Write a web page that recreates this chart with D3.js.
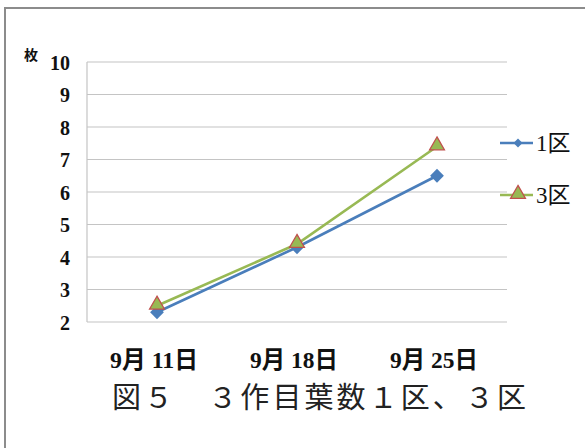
<!DOCTYPE html>
<html>
<head>
<meta charset="utf-8">
<script src="https://cdn.jsdelivr.net/npm/d3@7"></script>
<style>
  html, body { margin: 0; padding: 0; background: #fff; }
  svg { display: block; }
</style>
</head>
<body>
<svg id="chart" width="585" height="448"></svg>
<script>
// Leaf counts for the third crop, plots 1 and 3
const dates = ["9月 11日", "9月 18日", "9月 25日"];
const plot1 = [2.3, 4.3, 6.5];
const plot3 = [2.5, 4.4, 7.4];
const seriesNames = ["1区", "3区"];
const yTicks = [2, 3, 4, 5, 6, 7, 8, 9, 10];
const unitLabel = "枚";
const caption = "図５　３作目葉数１区、３区";

const svg = d3.select("#chart");
const serif = "'Liberation Serif', 'Noto Sans CJK JP', serif";

const blue = "#4a7ebb", green = "#98b954", red = "#c0504d";

// outer frame (left and top edges)
svg.append("path")
  .attr("d", "M5,448 L5,8 L585,8")
  .attr("fill", "none").attr("stroke", "#8c8c8c").attr("stroke-width", 2);

const x = d3.scaleBand().domain(dates).range([87, 507]);
const y = d3.scaleLinear().domain([2, 10]).range([322, 62]);

// horizontal gridlines
svg.append("g").selectAll("line").data(yTicks).join("line")
  .attr("x1", 87).attr("x2", 507)
  .attr("y1", d => y(d)).attr("y2", d => y(d))
  .attr("stroke", "#c4c4c4").attr("stroke-width", 1.2);

// vertical axis line
svg.append("line")
  .attr("x1", 87).attr("x2", 87).attr("y1", y(10)).attr("y2", y(2))
  .attr("stroke", "#c4c4c4").attr("stroke-width", 1.2);

// y tick labels
const yAxis = d3.axisLeft(y).tickValues(yTicks).tickSize(0).tickPadding(0);
const gy = svg.append("g").attr("transform", "translate(70,0)").call(yAxis);
gy.select(".domain").remove();
gy.selectAll("text")
  .attr("font-family", serif).attr("font-weight", "bold")
  .attr("font-size", 20).attr("fill", "#111").attr("dy", "0.35em");

// unit label
svg.append("text").attr("x", 24).attr("y", 60)
  .attr("font-family", "'Noto Sans CJK JP', sans-serif").attr("font-weight", "bold")
  .attr("font-size", 14).attr("fill", "#111").text(unitLabel);

// category labels (tall, narrow glyphs)
const xAxis = d3.axisBottom(x).tickSize(0).tickPadding(0);
const gx = svg.append("g").attr("transform", "translate(-3,351)").call(xAxis);
gx.select(".domain").remove();
gx.selectAll("text")
  .attr("font-family", serif).attr("font-weight", "bold")
  .attr("font-size", 24).attr("fill", "#111").attr("dy", "0.72em")
  .attr("textLength", 88).attr("lengthAdjust", "spacingAndGlyphs");

const cx = d => x(d) + x.bandwidth() / 2;
const line = d3.line().x((d, i) => cx(dates[i])).y(d => y(d));

// diamond marker: a square turned by 45 degrees
const diamond = d3.symbol().type(d3.symbolSquare).size(95);
const diamondSmall = d3.symbol().type(d3.symbolSquare).size(40);
const triangle = d3.symbol().type(d3.symbolTriangle).size(95);

// series 1区
svg.append("path").datum(plot1).attr("d", line)
  .attr("fill", "none").attr("stroke", blue).attr("stroke-width", 2.6);
svg.append("g").selectAll("path").data(plot1).join("path")
  .attr("d", diamond)
  .attr("transform", (d, i) => `translate(${cx(dates[i])},${y(d)}) rotate(45)`)
  .attr("fill", blue);

// series 3区
svg.append("path").datum(plot3).attr("d", line)
  .attr("fill", "none").attr("stroke", green).attr("stroke-width", 2.6);
svg.append("g").selectAll("path").data(plot3).join("path")
  .attr("d", triangle)
  .attr("transform", (d, i) => `translate(${cx(dates[i])},${y(d) - 1})`)
  .attr("fill", green).attr("stroke", red).attr("stroke-width", 1.3);

// legend
const legend = [
  { name: seriesNames[0], color: blue, sym: diamondSmall, fill: blue, stroke: "none", rot: 45, dy: 0, ly: 143 },
  { name: seriesNames[1], color: green, sym: triangle, fill: green, stroke: red, rot: 0, dy: -1, ly: 195 }
];
const lg = svg.append("g").selectAll("g").data(legend).join("g");
lg.append("line")
  .attr("x1", 500).attr("x2", 533).attr("y1", d => d.ly).attr("y2", d => d.ly)
  .attr("stroke", d => d.color).attr("stroke-width", 2.6);
lg.append("path")
  .attr("d", d => d.sym())
  .attr("transform", d => `translate(518,${d.ly + d.dy}) rotate(${d.rot})`)
  .attr("fill", d => d.fill).attr("stroke", d => d.stroke).attr("stroke-width", 1.3);
lg.append("text")
  .attr("x", 536).attr("y", d => d.ly).attr("dy", "0.36em")
  .attr("font-family", serif).attr("font-size", 23).attr("fill", "#111")
  .text(d => d.name);

// caption
svg.append("text").attr("x", 112).attr("y", 408)
  .attr("font-family", serif).attr("font-size", 29).attr("fill", "#222")
  .attr("textLength", 414).attr("lengthAdjust", "spacing")
  .text(caption);
</script>
</body>
</html>
